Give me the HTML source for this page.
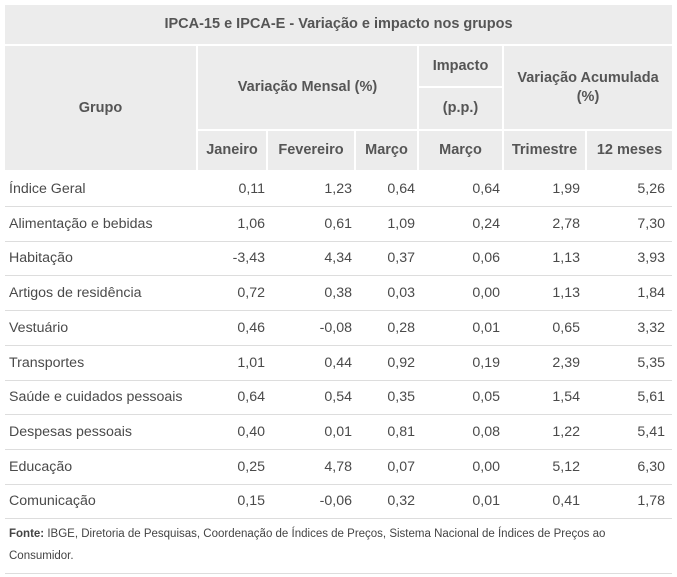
<!DOCTYPE html>
<html><head><meta charset="utf-8"><style>
body{margin:0;width:677px;height:577px;background:#fff;position:relative;font-family:"Liberation Sans",sans-serif;overflow:hidden}
.h{position:absolute;background:#ececec;color:#555;font-weight:bold;font-size:14.5px;display:flex;align-items:center;justify-content:center;text-align:center;line-height:19px}
.r{position:absolute;left:5px;width:667px;height:34px;border-bottom:1px solid #ddd;color:#4a4a4a;font-size:14.2px}
.r span{position:absolute;top:9px}
.c{text-align:right;width:80px}
.f{position:absolute;left:9px;font-size:11.5px;color:#444}
</style></head><body>
<div class="h" style="left:5px;top:5px;width:667px;height:39px">IPCA-15 e IPCA-E - Variação e impacto nos grupos</div>
<div class="h" style="left:5px;top:46px;width:191px;height:124px">Grupo</div>
<div class="h" style="left:198px;top:46px;width:219px;height:83px">Variação Mensal (%)</div>
<div class="h" style="left:419px;top:46px;width:83px;height:40px">Impacto</div>
<div class="h" style="left:419px;top:88px;width:83px;height:41px">(p.p.)</div>
<div class="h" style="left:504px;top:46px;width:168px;height:83px">Variação Acumulada<br>(%)</div>
<div class="h" style="left:198px;top:131px;width:68px;height:39px">Janeiro</div>
<div class="h" style="left:268px;top:131px;width:86px;height:39px">Fevereiro</div>
<div class="h" style="left:356px;top:131px;width:61px;height:39px">Março</div>
<div class="h" style="left:419px;top:131px;width:83px;height:39px">Março</div>
<div class="h" style="left:504px;top:131px;width:81px;height:39px">Trimestre</div>
<div class="h" style="left:587px;top:131px;width:85px;height:39px">12 meses</div>
<div id="rows"></div>
<div class="f" style="top:528px"><b>Fonte:</b> IBGE, Diretoria de Pesquisas, Coordenação de Índices de Preços, Sistema Nacional de Índices de Preços ao</div>
<div class="f" style="top:550px">Consumidor.</div>
<div style="position:absolute;left:5px;top:573px;width:667px;border-top:1px solid #ddd"></div>
<script>
var d=[["Índice Geral","0,11","1,23","0,64","0,64","1,99","5,26"],
["Alimentação e bebidas","1,06","0,61","1,09","0,24","2,78","7,30"],
["Habitação","-3,43","4,34","0,37","0,06","1,13","3,93"],
["Artigos de residência","0,72","0,38","0,03","0,00","1,13","1,84"],
["Vestuário","0,46","-0,08","0,28","0,01","0,65","3,32"],
["Transportes","1,01","0,44","0,92","0,19","2,39","5,35"],
["Saúde e cuidados pessoais","0,64","0,54","0,35","0,05","1,54","5,61"],
["Despesas pessoais","0,40","0,01","0,81","0,08","1,22","5,41"],
["Educação","0,25","4,78","0,07","0,00","5,12","6,30"],
["Comunicação","0,15","-0,06","0,32","0,01","0,41","1,78"]];
var ends=[265,352,415,500,580,665],h="";
d.forEach(function(r,i){var t=172+i*34.7;h+='<div class="r" style="top:'+t+'px"><span style="left:4px">'+r[0]+'</span>';
for(var j=1;j<7;j++)h+='<span class="c" style="left:'+(ends[j-1]-5-80)+'px">'+r[j]+'</span>';h+='</div>';});
document.getElementById("rows").innerHTML=h;
</script>
</body></html>
